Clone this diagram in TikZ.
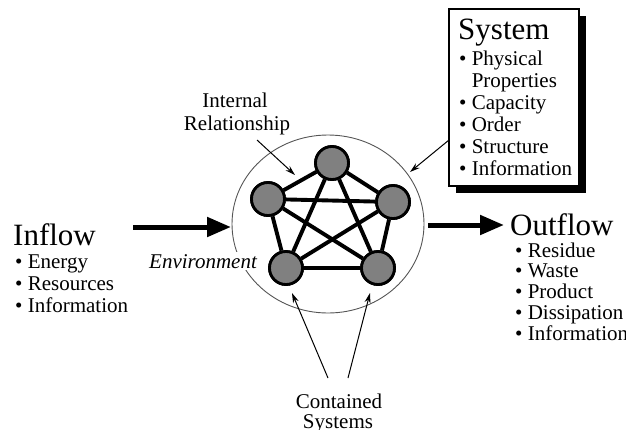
\documentclass[tikz,border=0pt]{standalone}
\usepackage{fontspec}
\setmainfont{Liberation Serif}
\usetikzlibrary{arrows.meta}
\definecolor{ballgray}{HTML}{808080}
\definecolor{ringgray}{HTML}{555555}
\tikzset{
  ball/.style={circle, draw=black, line width=2.8pt, fill=ballgray, minimum size=33pt, inner sep=0pt},
  link/.style={line width=3.9pt, black},
  thinarrow/.style={line width=1pt, -{Stealth[length=10pt,width=6pt]}},
  bigarrow/.style={line width=5pt, -{Triangle[length=24pt,width=19pt]}},
  title/.style={anchor=base west, inner sep=0pt, font=\fontsize{31}{34}\selectfont},
  items/.style={anchor=base west, inner sep=0pt, font=\fontsize{21}{22}\selectfont},
  label/.style={inner sep=0pt, font=\fontsize{21}{22}\selectfont, align=center},
}
\newcommand{\itemlist}[1]{\begin{tabular}[t]{@{}l@{}}#1\end{tabular}}
\begin{document}
\begin{tikzpicture}[x=1pt,y=-1pt]
\useasboundingbox (0,0) rectangle (626,429);

% environment ring
\draw[ringgray, line width=0.9pt] (328,224) ellipse [x radius=96, y radius=89];
\node[anchor=base west, fill=white, inner sep=2pt, font=\fontsize{21}{22}\selectfont\itshape] (env) at (147,268) {Environment};

% contained systems
\node[ball] (nt) at (332,163) {};
\node[ball] (nl) at (268,199) {};
\node[ball] (nr) at (393,202) {};
\node[ball] (nbl) at (286,268) {};
\node[ball] (nbr) at (378,268) {};
\draw[link] (nt) -- (nl);
\draw[link] (nt) -- (nr);
\draw[link] (nt) -- (nbl);
\draw[link] (nt) -- (nbr);
\draw[link] (nl) -- (nr);
\draw[link] (nl) -- (nbl);
\draw[link] (nl) -- (nbr);
\draw[link] (nr) -- (nbl);
\draw[link] (nr) -- (nbr);
\draw[link] (nbl) -- (nbr);
\node[ball] at (nt) {};
\node[ball] at (nl) {};
\node[ball] at (nr) {};
\node[ball] at (nbl) {};
\node[ball] at (nbr) {};

% Internal relationship
\node[label, anchor=base] (ir1) at (235,107) {Internal};
\node[label, anchor=base] (ir2) at (237,130) {Relationship};
\coordinate (irs) at (257,140);
\coordinate (irt) at (295,175);
\draw[thinarrow] (irs) -- (irt);

% System box
\fill[black] (456,16) rectangle (586,193);
\node[draw=black, line width=1.1pt, fill=white, minimum width=130pt, minimum height=177pt, inner sep=0pt] (sysbox) at (514,97.5) {};
\node[title] (systitle) at (458,39) {System};
\node[items] (sysitems) at (459,65) {\itemlist{• Physical\\\phantom{• }Properties\\• Capacity\\• Order\\• Structure\\• Information}};
\coordinate (syss) at (449,140);
\coordinate (syst) at (410,172);
\draw[thinarrow] (syss) -- (syst);

% Inflow
\coordinate (ins) at (133,227);
\coordinate (int) at (231,227);
\draw[bigarrow] (ins) -- (int);
\node[title] (inflow) at (13,245) {Inflow};
\node[items] (initems) at (15,268) {\itemlist{• Energy\\• Resources\\• Information}};

% Outflow
\coordinate (outs) at (428,225);
\coordinate (outt) at (504,225);
\draw[bigarrow] (outs) -- (outt);
\node[title] (outflow) at (510,235) {Outflow};
\node[items, font=\fontsize{21}{20.8}\selectfont] (outitems) at (515,257) {\itemlist{• Residue\\• Waste\\• Product\\• Dissipation\\• Information}};

% Contained systems
\node[label, anchor=base] (cs1) at (339,408) {Contained};
\node[label, anchor=base] (cs2) at (338,428) {Systems};
\coordinate (csl) at (328,378);
\coordinate (csr) at (348,378);
\coordinate (cstl) at (292,293);
\coordinate (cstr) at (370,293);
\draw[thinarrow] (csl) -- (cstl);
\draw[thinarrow] (csr) -- (cstr);
\end{tikzpicture}
\end{document}
